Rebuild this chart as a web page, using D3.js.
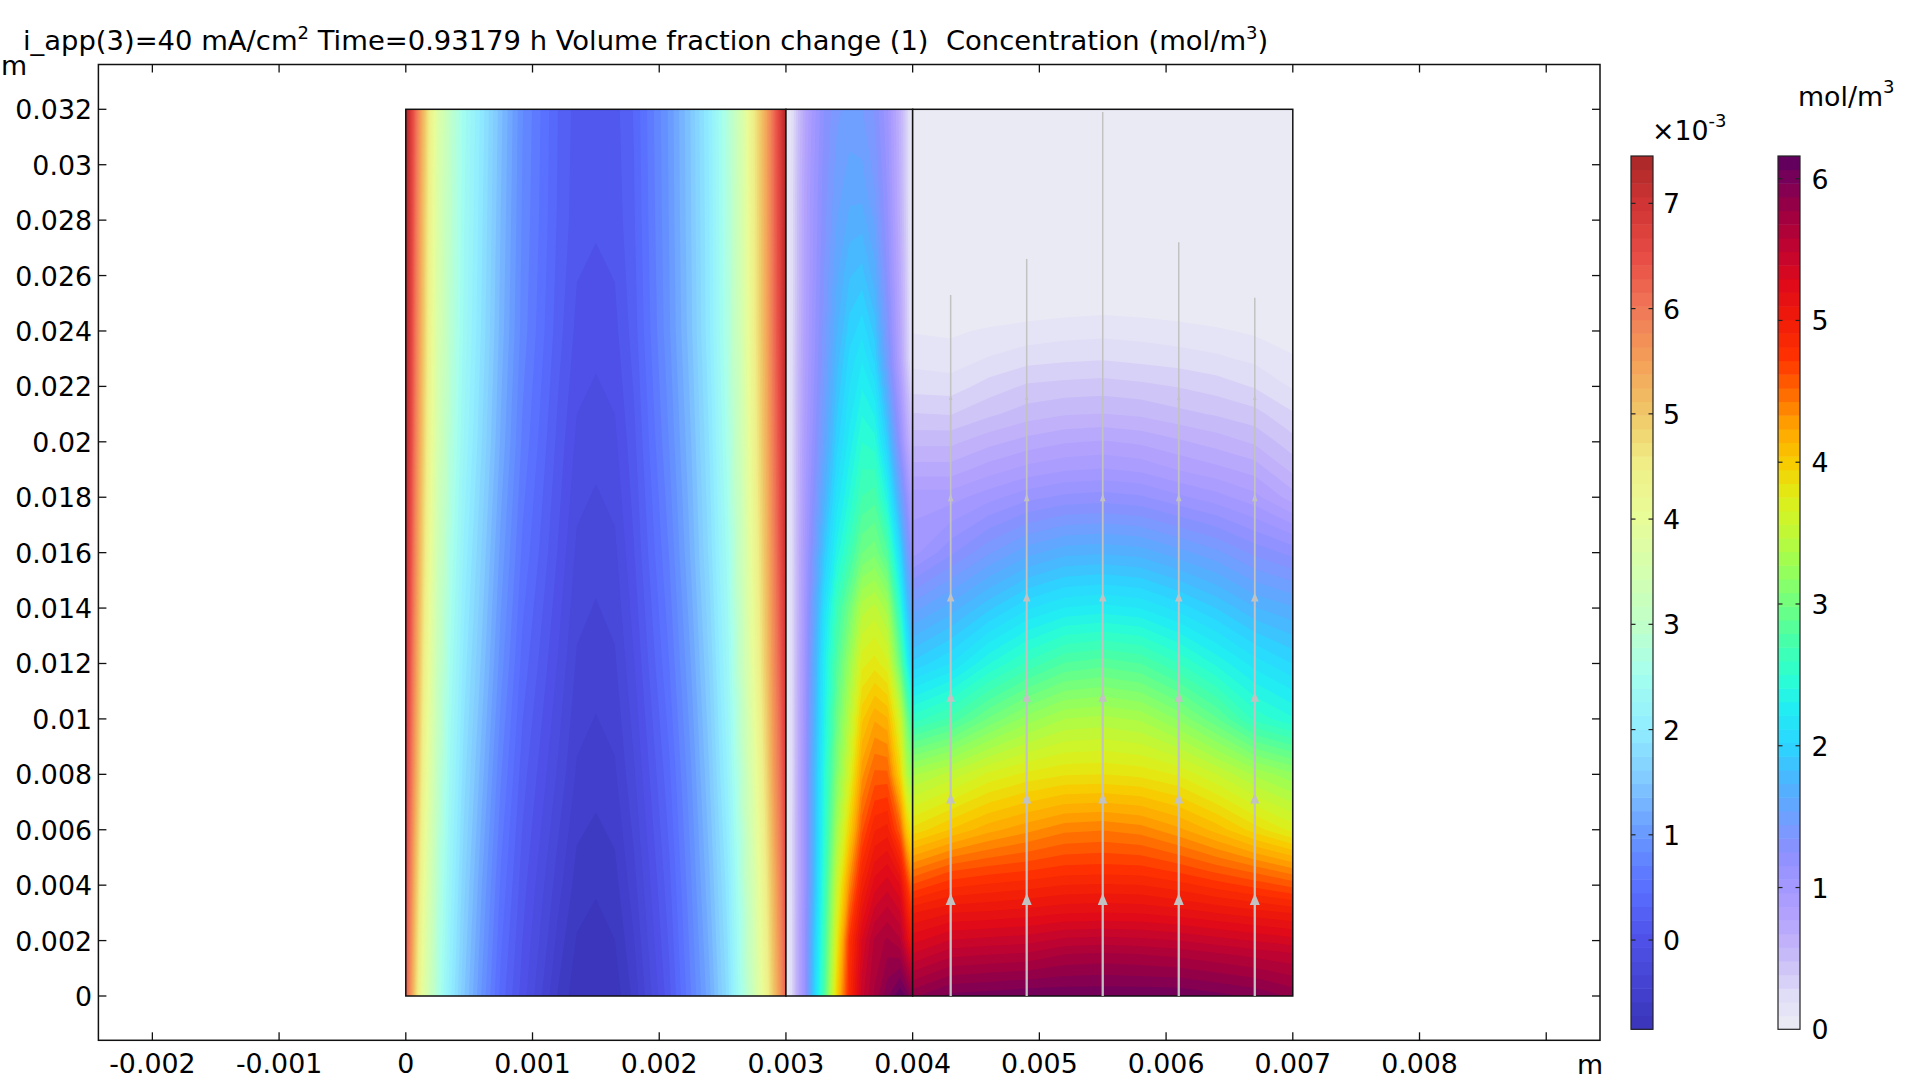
<!DOCTYPE html>
<html><head><meta charset="utf-8">
<style>html,body{margin:0;padding:0;background:#fff;overflow:hidden}svg{display:block}text{font-family:"DejaVu Sans",sans-serif;fill:#000}</style>
<script src="https://cdn.jsdelivr.net/npm/d3@7"></script></head><body>
<script>
// ---------- axis ticks
const xTicks=[-0.002,-0.001,0,0.001,0.002,0.003,0.004,0.005,0.006,0.007,0.008,0.009];
const xTickLabels=["-0.002","-0.001","0","0.001","0.002","0.003","0.004","0.005","0.006","0.007","0.008",""];
const yTicks=[0,0.002,0.004,0.006,0.008,0.01,0.012,0.014,0.016,0.018,0.02,0.022,0.024,0.026,0.028,0.03,0.032];
const yTickLabels=["0","0.002","0.004","0.006","0.008","0.01","0.012","0.014","0.016","0.018","0.02","0.022","0.024","0.026","0.028","0.03","0.032"];
// ---------- colour legends
const vfTicks=[0,1,2,3,4,5,6,7];
const vfStops=[-0.848,-0.5,0,0.5,1,1.5,2,2.5,3,3.5,4,4.5,5,5.5,6,6.5,7,7.45];
const vfColors=["#3a34b8","#4240cc","#4e50e8","#5a70ff","#6898ff","#80c8ff","#90ecff","#a4fff0","#c0ffc8","#d4ffb0","#e8fc98","#f0f088","#f0c868","#f4a058","#f07858","#e84c44","#d03434","#a82828"];
const concTicks=[0,1,2,3,4,5,6];
const concStops=[0,0.25,0.5,0.75,1,1.25,1.5,1.75,2,2.25,2.5,2.75,3,3.25,3.5,3.75,4,4.25,4.5,4.75,5,5.25,5.5,5.75,6,6.16];
const concColors=["#ecedf5","#e0dcf6","#c9bdf8","#b7a6fc","#a498ff","#8c90ff","#6ea0ff","#4cb4ff","#2cd4ff","#22ecf5","#2cffd0","#48ffa8","#70ff80","#98ff58","#c0f838","#e0ee18","#f8cc00","#ffa400","#ff6800","#ff3000","#f01c08","#e00a18","#c00430","#a00040","#780058","#5a0060"];
// ---------- region 1: volume fraction change, x 0..3 mm
const r1X=[0,.04,.08,.13,.18,.25,.35,.46,.6,.75,.92,1.2,1.35,1.5,1.65,1.8,2.08,2.25,2.4,2.54,2.64,2.73,2.8,2.85,2.9,2.95,3];
const r1Y=[0,4,8,12,16,20,24,28,32];
const r1V=[
[6.3,5.6,4.8,3.95,3.4,2.7,2.05,1.5,.95,.4,0,-.6,-.81,-.85,-.8,-.55,.15,.7,1.2,1.8,2.5,3.2,3.9,4.4,5,5.6,6.25],
[6.5,5.85,5.05,4.2,3.6,2.85,2.2,1.65,1.1,.55,.12,-.4,-.65,-.7,-.64,-.38,.28,.82,1.35,1.95,2.65,3.4,4.1,4.6,5.2,5.8,6.5],
[6.75,6.1,5.35,4.5,3.85,3.05,2.35,1.8,1.28,.72,.25,-.22,-.48,-.53,-.48,-.22,.42,.95,1.5,2.15,2.85,3.65,4.35,4.85,5.5,6.05,6.75],
[6.95,6.3,5.55,4.7,4.05,3.2,2.5,1.95,1.45,.9,.4,-.08,-.35,-.4,-.35,-.08,.58,1.1,1.65,2.3,3.05,3.9,4.58,5.08,5.7,6.25,6.95],
[7.1,6.45,5.7,4.9,4.2,3.35,2.65,2.1,1.6,1.05,.55,.05,-.23,-.28,-.23,.05,.72,1.25,1.8,2.45,3.2,4.05,4.72,5.22,5.82,6.4,7.1],
[7.25,6.6,5.85,5.05,4.35,3.5,2.8,2.25,1.75,1.2,.68,.15,-.1,-.15,-.1,.15,.85,1.35,1.9,2.6,3.3,4.2,4.85,5.35,5.95,6.5,7.25],
[7.35,6.7,5.95,5.15,4.45,3.6,2.9,2.35,1.85,1.3,.78,.25,.02,-.02,.02,.25,.95,1.45,2,2.7,3.4,4.3,4.95,5.45,6.05,6.6,7.35],
[7.4,6.75,6,5.2,4.5,3.65,2.95,2.4,1.9,1.35,.82,.3,.11,.08,.11,.3,.98,1.48,2.02,2.72,3.42,4.35,4.98,5.48,6.08,6.65,7.4],
[7.45,6.8,6.1,5.3,4.6,3.75,3,2.45,1.95,1.4,.85,.32,.13,.1,.14,.33,1,1.5,2.05,2.75,3.45,4.4,5,5.5,6.1,6.7,7.45]];
// ---------- region 2: concentration, x 3..4 mm
const r2X=[3,3.05,3.1,3.15,3.2,3.3,3.4,3.5,3.6,3.7,3.8,3.9,3.95,4];
const r2Y=[0,2,4,6,8,10,12,14,16,18,20,23,26,29,32];
const r2V=[
[.05,.3,.75,1.15,1.75,2.75,3.95,4.85,5.45,5.7,5.95,6.15,6.05,5.85],
[.05,.3,.75,1.15,1.7,2.65,3.75,4.75,5.3,5.6,5.7,5.6,5.3,5],
[.05,.3,.72,1.1,1.6,2.55,3.55,4.35,4.95,5.25,5.35,5.2,4.8,4.4],
[.05,.3,.72,1.1,1.6,2.45,3.3,3.95,4.6,4.9,4.95,4.55,4.05,3.75],
[.05,.28,.72,1.1,1.6,2.4,3.1,3.65,4.3,4.55,4.55,3.95,3.45,3.15],
[.05,.28,.7,1.08,1.55,2.3,2.95,3.45,4.02,4.22,4.15,3.6,3.05,2.6],
[.05,.28,.68,1.05,1.5,2.25,2.8,3.25,3.72,3.8,3.68,2.95,2.4,1.95],
[.05,.28,.65,1.02,1.42,2.1,2.65,3,3.42,3.5,3.32,2.5,1.95,1.55],
[.05,.28,.65,.98,1.3,1.9,2.35,2.65,2.98,3.05,2.8,2.05,1.55,1.1],
[.05,.28,.62,.94,1.2,1.7,2.15,2.42,2.7,2.75,2.35,1.6,1.2,.85],
[.05,.28,.6,.9,1.12,1.55,1.98,2.25,2.5,2.45,1.95,1.2,.8,.5],
[.05,.27,.58,.85,1.05,1.42,1.78,2.05,2.2,2,1.45,.82,.45,.12],
[.05,.25,.55,.82,1.02,1.35,1.62,1.82,1.87,1.68,1.25,.72,.4,.06],
[.05,.25,.55,.8,1,1.3,1.5,1.6,1.6,1.45,1.15,.65,.35,.05],
[.05,.22,.5,.75,.95,1.25,1.42,1.48,1.45,1.33,1.08,.62,.35,.05]];
// ---------- region 3: concentration, x 4..7 mm
const r3X=[4,4.3,4.6,4.9,5.2,5.5,5.8,6.1,6.4,6.7,7];
const r3Y=[0,1.5,3,4.5,6,8,10,12,14,16,18,19,20,21,22,23,24,25,32];
const r3V=[
[5.85,6,6.02,6.05,6.05,6.05,6.05,6.05,6,5.95,5.85],
[5.4,5.55,5.58,5.6,5.68,5.7,5.68,5.65,5.6,5.55,5.5],
[5,5.1,5.12,5.15,5.19,5.2,5.19,5.15,5.1,5.05,5],
[4.45,4.62,4.68,4.72,4.77,4.78,4.77,4.7,4.6,4.5,4.38],
[3.88,4.05,4.2,4.3,4.4,4.42,4.38,4.26,4.1,3.9,3.72],
[3.35,3.5,3.68,3.78,3.84,3.85,3.82,3.74,3.56,3.35,3.2],
[2.55,2.72,3,3.22,3.37,3.4,3.35,3.16,2.9,2.57,2.42],
[1.95,2.12,2.4,2.62,2.8,2.85,2.79,2.6,2.38,2.17,2.02],
[1.5,1.68,1.9,2.1,2.22,2.25,2.21,2.08,1.92,1.74,1.65],
[1.02,1.23,1.43,1.6,1.7,1.72,1.69,1.58,1.47,1.32,1.22],
[.92,.92,1.02,1.12,1.18,1.2,1.17,1.08,1,.9,.72],
[.72,.72,.82,.9,.95,.97,.94,.86,.8,.73,.55],
[.55,.55,.64,.71,.76,.78,.75,.69,.63,.56,.42],
[.39,.38,.46,.53,.57,.58,.56,.51,.47,.42,.3],
[.25,.24,.33,.4,.42,.43,.41,.38,.34,.28,.18],
[.16,.14,.2,.25,.27,.28,.26,.24,.21,.17,.11],
[.09,.08,.11,.13,.15,.16,.15,.13,.11,.08,.03],
[0,0,.01,.03,.04,.05,.04,.03,.01,0,0],
[0,0,0,0,0,0,0,0,0,0,0]];
// ---------- streamlines
const streamX=[4.3,4.9,5.5,6.1,6.7];
const streamTop=[25.3,26.6,31.9,27.2,25.2];
const arrowY=[3.5,7.15,10.8,14.4,18,21.6];
const arrowW=[10,9,8.5,7.5,5.5,3.5];
const arrowH=[12,11,10,9,8,5];
const segW=[2.3,2.2,2.1,2,1.8,1.7,1.5];

const W=1920,H=1080;
const x=d3.scaleLinear().domain([0,0.007]).range([405.8,1292.8]);
const y=d3.scaleLinear().domain([0,0.032]).range([996,109.3]);
const frame={l:98.4,r:1600,t:64.5,b:1040.3};
const svg=d3.select("body").append("svg").attr("width",W).attr("height",H).attr("viewBox",`0 0 ${W} ${H}`);
const cVf=d3.scaleLinear().domain(vfStops).range(vfColors).clamp(true);
const cConc=d3.scaleLinear().domain(concStops).range(concColors).clamp(true);
const N=64;
const vfLevels=d3.range(N).map(i=>-0.848+i*(7.45+0.848)/N);
const concLevels=d3.range(N).map(i=>i*6.16/N);
const vfStep=(7.45+0.848)/N, concStep=6.16/N;

function field(xs,ys,rows,levels,step,color){
  const g=svg.append("g");
  const sx=d3.scaleLinear().domain(xs.map((_,i)=>i+.5)).range(xs.map(v=>x(v*1e-3))).clamp(true);
  const sy=d3.scaleLinear().domain(ys.map((_,i)=>i+.5)).range(ys.map(v=>y(v*1e-3))).clamp(true);
  const path=d3.geoPath(d3.geoTransform({point(a,b){this.stream.point(sx(a),sy(b));}}));
  const vals=rows.flat();
  const cont=d3.contours().size([xs.length,ys.length]);
  g.append("rect").attr("x",x(xs[0]*1e-3)).attr("y",y(ys[ys.length-1]*1e-3))
   .attr("width",x(xs[xs.length-1]*1e-3)-x(xs[0]*1e-3)).attr("height",y(ys[0]*1e-3)-y(ys[ys.length-1]*1e-3))
   .attr("fill",color(levels[0]+step/2));
  levels.slice(1).forEach(t=>{
    g.append("path").attr("d",path(cont.contour(vals,t))).attr("fill",color(t+step/2));
  });
  g.append("rect").attr("x",x(xs[0]*1e-3)).attr("y",y(ys[ys.length-1]*1e-3))
   .attr("width",x(xs[xs.length-1]*1e-3)-x(xs[0]*1e-3)).attr("height",y(ys[0]*1e-3)-y(ys[ys.length-1]*1e-3))
   .attr("fill","none").attr("stroke","#111").attr("stroke-width",1.5);
}
field(r1X,r1Y,r1V,vfLevels,vfStep,cVf);
field(r2X,r2Y,r2V,concLevels,concStep,cConc);
field(r3X,r3Y,r3V,concLevels,concStep,cConc);

// streamlines
const lineG=svg.append("g");
const tri=d3.line();
streamX.forEach((sxv,k)=>{
  const px=x(sxv*1e-3);
  const breaks=[0,...arrowY,streamTop[k]];
  for(let i=0;i<breaks.length-1;i++){
    lineG.append("line").attr("x1",px).attr("x2",px).attr("y1",y(breaks[i]*1e-3)).attr("y2",y(breaks[i+1]*1e-3))
      .attr("stroke","#c2c2c2").attr("stroke-width",segW[i]);
  }
  arrowY.forEach((a,i)=>{
    const py=y(a*1e-3),w=arrowW[i]/2,h=arrowH[i]/2;
    lineG.append("path").attr("d",tri([[px-w,py+h],[px,py-h],[px+w,py+h]])+"Z").attr("fill","#c2c2c2");
  });
});

// frame + ticks
svg.append("rect").attr("x",frame.l).attr("y",frame.t).attr("width",frame.r-frame.l).attr("height",frame.b-frame.t)
  .attr("fill","none").attr("stroke","#111").attr("stroke-width",1.5);
const tl=8;
const ax=svg.append("g").attr("stroke","#111").attr("stroke-width",1.3);
xTicks.forEach(t=>{
  ax.append("line").attr("x1",x(t)).attr("x2",x(t)).attr("y1",frame.t).attr("y2",frame.t+tl);
  ax.append("line").attr("x1",x(t)).attr("x2",x(t)).attr("y1",frame.b).attr("y2",frame.b-tl);
});
yTicks.forEach(t=>{
  ax.append("line").attr("y1",y(t)).attr("y2",y(t)).attr("x1",frame.l).attr("x2",frame.l+tl);
  ax.append("line").attr("y1",y(t)).attr("y2",y(t)).attr("x1",frame.r).attr("x2",frame.r-tl);
});
const FS=26.8;
const lab=svg.append("g").attr("font-size",FS);
xTicks.forEach((t,i)=>{ if(xTickLabels[i]) lab.append("text").attr("x",x(t)).attr("y",1073).attr("text-anchor","middle").text(xTickLabels[i]); });
yTicks.forEach((t,i)=>lab.append("text").attr("x",92).attr("y",y(t)+10).attr("text-anchor","end").text(yTickLabels[i]));
lab.append("text").attr("x",1).attr("y",75).text("m");
lab.append("text").attr("x",1577).attr("y",1074).text("m");

// title
const title=lab.append("text").attr("x",23).attr("y",50).attr("font-size",27.4);
title.append("tspan").text("i_app(3)=40 mA/cm");
title.append("tspan").attr("dy",-11).attr("font-size",18).text("2");
title.append("tspan").attr("dy",11).text(" Time=0.93179 h Volume fraction change (1)\u00a0\u00a0Concentration (mol/m");
title.append("tspan").attr("dy",-11).attr("font-size",18).text("3");
title.append("tspan").attr("dy",11).text(")");

// colour bars
function bar(x0,x1,color,ticks,levels,step,labelX,vmin,vmax){
  const top=156,bot=1029.3;
  const s=d3.scaleLinear().domain([vmin,vmax]).range([bot,top]);
  const g=svg.append("g");
  levels.forEach(t=>{
    g.append("rect").attr("x",x0).attr("width",x1-x0).attr("y",s(t+step)).attr("height",s(t)-s(t+step)+.5).attr("fill",color(t+step/2));
  });
  g.append("rect").attr("x",x0).attr("y",top).attr("width",x1-x0).attr("height",bot-top).attr("fill","none").attr("stroke","#222").attr("stroke-width",1.2);
  ticks.forEach(t=>{
    const py=s(t);
    if(t>vmin){
      g.append("line").attr("x1",x0).attr("x2",x0+4.5).attr("y1",py).attr("y2",py).attr("stroke","#222").attr("stroke-width",1.2);
      g.append("line").attr("x1",x1-4.5).attr("x2",x1).attr("y1",py).attr("y2",py).attr("stroke","#222").attr("stroke-width",1.2);
    }
    lab.append("text").attr("x",labelX).attr("y",py+10).text(t);
  });
}
bar(1631,1653,cVf,vfTicks,vfLevels,vfStep,1663,-0.848,7.45);
bar(1778,1800,cConc,concTicks,concLevels,concStep,1811.5,0,6.16);
const e1=lab.append("text").attr("x",1652).attr("y",140);
e1.append("tspan").text("\u00d710");e1.append("tspan").attr("dy",-13).attr("font-size",18).text("-3");
const e2=lab.append("text").attr("x",1798).attr("y",106);
e2.append("tspan").text("mol/m");e2.append("tspan").attr("dy",-13).attr("font-size",18).text("3");
</script></body></html>
